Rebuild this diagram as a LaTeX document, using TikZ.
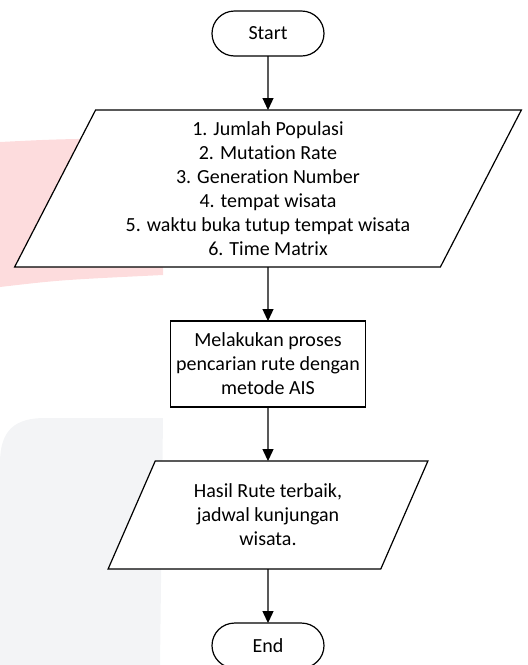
\documentclass[tikz,border=0pt]{standalone}
\usepackage{fontspec}
\setmainfont{Carlito}[Ligatures=NoCommon]
\usepackage{tikz}
\pgfdeclarelayer{bg}
\pgfsetlayers{bg,main}
\usetikzlibrary{arrows.meta,positioning,shapes.geometric,shapes.misc}
\definecolor{wmpink}{RGB}{253,220,221}
\definecolor{wmgrey}{RGB}{243,244,246}
\tikzset{
  terminal/.style={draw, fill=white, rounded rectangle, minimum width=112pt, minimum height=45pt},
  iobox/.style={draw, fill=white, trapezium, trapezium left angle=63.5, trapezium right angle=116.5,
    trapezium stretches=true, align=center},
  procbox/.style={draw, fill=white, rectangle, align=center, minimum width=195pt, minimum height=86pt},
  flow/.style={-{Triangle[width=11pt,length=12pt]}}
}

\begin{document}
\begin{tikzpicture}[line width=1.2pt, outer sep=0pt, inner sep=0pt, node distance=54pt,
    font=\fontsize{20}{24}\selectfont]
  \useasboundingbox (0pt,0pt) rectangle (528pt,-665pt);
  \node[terminal] (start) at (268pt,-33.5pt) {Start};
  \node[iobox, minimum width=509pt, minimum height=157pt] (input) [below = of start]
    {1. Jumlah Populasi\\2. Mutation Rate\\3. Generation Number\\4. tempat wisata\\5. waktu buka tutup tempat wisata\\6. Time Matrix};
  \node[procbox] (ais) [below = of input] {Melakukan proses\\pencarian rute dengan\\metode AIS};
  \node[iobox, minimum width=320pt, minimum height=108pt] (output) [below = of ais]
    {Hasil Rute terbaik,\\jadwal kunjungan\\wisata.};
  \node[terminal] (end) [below = of output] {End};
  \draw[flow] (start) -- (input);
  \draw[flow] (input) -- (ais);
  \draw[flow] (ais) -- (output);
  \draw[flow] (output) -- (end);
  \begin{pgfonlayer}{bg}
    \fill[wmpink] (0pt,-142pt) .. controls (60pt,-139pt) .. (163pt,-138pt)
      -- (163pt,-275pt) .. controls (60pt,-280pt) .. (0pt,-287pt) -- cycle;
    \fill[wmgrey] (0pt,-665pt) -- (0pt,-463pt) .. controls (0pt,-430pt) and (15pt,-418pt) .. (45pt,-418pt)
      -- (163pt,-418pt) -- (160pt,-665pt) -- cycle;
  \end{pgfonlayer}
\end{tikzpicture}
\end{document}
